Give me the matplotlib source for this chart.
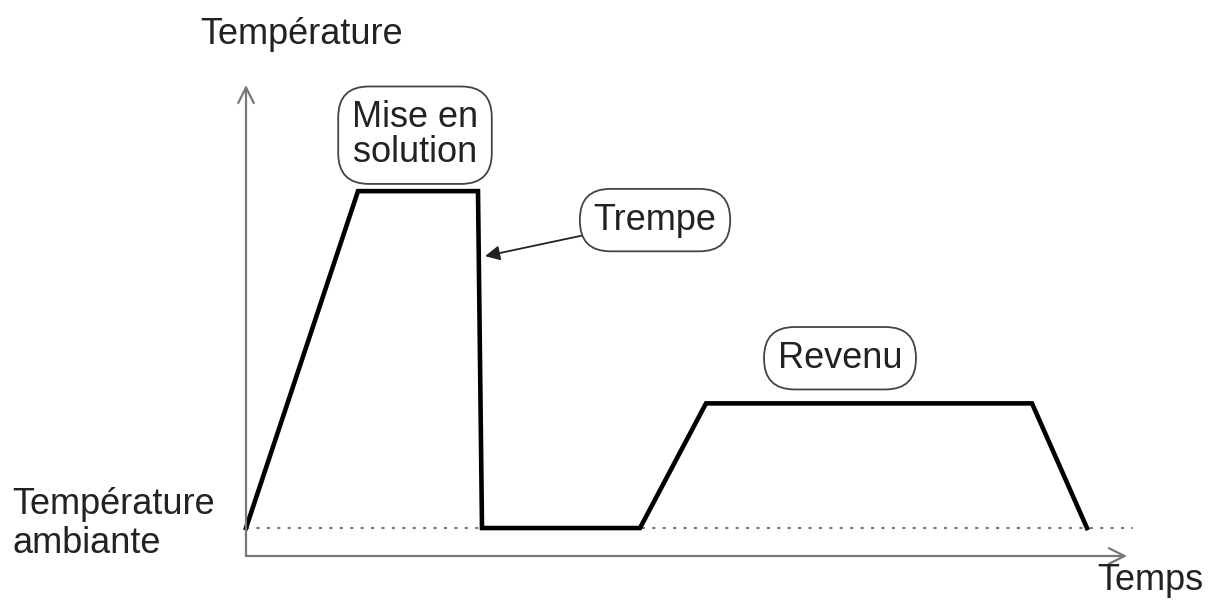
import matplotlib.pyplot as plt

# heat-treatment profile (arbitrary units: time, temperature above ambient)
time = [0, 11.2, 23.2, 23.6, 39.4, 46.0, 78.6, 84.1]
temp = [0, 100, 100, 0, 0, 37, 37, 0]

stage_labels = ["Mise en\nsolution", "Trempe", "Revenu"]
stage_x = [16.9, 40.9, 59.4]
stage_y = [116.6, 91.4, 50.4]
trempe_target = (23.9, 80.7)

plt.rcParams['font.family'] = ['Liberation Sans', 'DejaVu Sans']

W, H = 1215, 603
fig = plt.figure(figsize=(W / 100, H / 100), dpi=100)
ax = fig.add_axes([246 / W, 47 / H, 881 / W, 471 / H])
ax.set_xlim(0, 88.1)
ax.set_ylim(-8.3, 131.5)
ax.axis('off')

# axes arrows
grey = '#777777'
ax.annotate('', xy=(1.0, 0), xytext=(0, 0), xycoords='axes fraction',
            arrowprops=dict(arrowstyle='->', color=grey, lw=1.6,
                            mutation_scale=28, shrinkA=0, shrinkB=0))
ax.annotate('', xy=(0, 1.0), xytext=(0, 0), xycoords='axes fraction',
            arrowprops=dict(arrowstyle='->', color=grey, lw=1.6,
                            mutation_scale=28, shrinkA=0, shrinkB=0))

# ambient temperature reference
ax.plot([0, 88.7], [0, 0], color='#777777', lw=1.5, ls=(0, (1.5, 3.5)),
        clip_on=False)

# profile
ax.plot(time, temp, color='black', lw=3.3, solid_joinstyle='miter',
        clip_on=False)

fs = 26
box = dict(boxstyle='round,pad=0.38,rounding_size=0.85', fc='white',
           ec='#444444', lw=1.3)
for i in range(len(stage_labels)):
    if stage_labels[i] == "Trempe":
        ax.annotate(stage_labels[i], xy=trempe_target,
                    xytext=(stage_x[i], stage_y[i]), ha='center', va='center',
                    fontsize=fs, linespacing=1.0, bbox=box, color='#222222',
                    arrowprops=dict(arrowstyle='-|>', color='#222222', lw=1.3,
                                    mutation_scale=22, shrinkA=0, shrinkB=0))
    else:
        ax.text(stage_x[i], stage_y[i], stage_labels[i], ha='center',
                va='center', fontsize=fs, linespacing=1.0, bbox=box,
                color='#222222')

fig.text(200 / W, 1 - 35 / H, "Température", ha='left', va='center',
         fontsize=fs, color='#222222')
fig.text(12 / W, 1 - 524 / H, "Température\nambiante", ha='left',
         va='center', fontsize=fs, linespacing=1.12, color='#222222')
fig.text(1097 / W, 1 - 581 / H, "Temps", ha='left', va='center',
         fontsize=fs, color='#222222')

fig.savefig('out.png', dpi=100)
